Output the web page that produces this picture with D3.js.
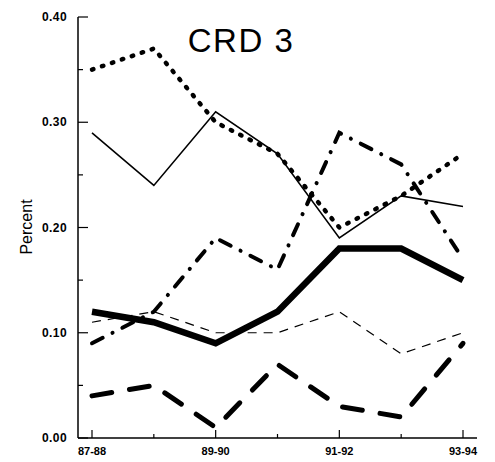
<!DOCTYPE html>
<html><head><meta charset="utf-8">
<script src="https://cdn.jsdelivr.net/npm/d3@7"></script>
<style>body{margin:0;background:#fff}</style>
</head><body>
<svg id="c" width="495" height="462"></svg>
<script>
const years = ["87-88","88-89","89-90","90-91","91-92","92-93","93-94"];
const tickLabels = ["87-88","89-90","91-92","93-94"];
const yTicks = [0,0.10,0.20,0.30,0.40];
const thickSolid = [0.12,0.11,0.09,0.12,0.18,0.18,0.15];
const thinSolid  = [0.29,0.24,0.31,0.27,0.19,0.23,0.22];
const dotted     = [0.35,0.37,0.30,0.27,0.20,0.23,0.27];
const dashDot    = [0.09,0.12,0.19,0.16,0.29,0.26,0.17];
const thinDashed = [0.11,0.12,0.10,0.10,0.12,0.08,0.10];
const longDashed = [0.04,0.05,0.01,0.07,0.03,0.02,0.09];

const svg = d3.select("#c");
const x = d3.scalePoint().domain(years).range([92,463]);
const y = d3.scaleLinear().domain([0,0.40]).range([438,17]);
const font = "Liberation Sans, Arial, sans-serif";

const g = svg.append("g");
g.append("line").attr("x1",78).attr("x2",78).attr("y1",17).attr("y2",438).attr("stroke","#000").attr("stroke-width",1.5);
g.append("line").attr("x1",78).attr("x2",477).attr("y1",438).attr("y2",438).attr("stroke","#000").attr("stroke-width",1.5);
d3.range(0,0.401,0.05).forEach((v,i)=>{
  const major = i%2===0;
  g.append("line").attr("x1",78).attr("x2",major?88:83).attr("y1",y(v)).attr("y2",y(v)).attr("stroke","#000").attr("stroke-width",1.2);
});
yTicks.forEach(v=>{
  g.append("text").attr("x",67).attr("y",y(v)+4).attr("text-anchor","end")
   .attr("font-family",font).attr("font-weight","bold").attr("font-size",12).attr("letter-spacing",0.4)
   .text(v.toFixed(2));
});
years.forEach((yr,i)=>{
  const major = i%2===0;
  g.append("line").attr("x1",x(yr)).attr("x2",x(yr)).attr("y1",438).attr("y2",major?430:434).attr("stroke","#000").attr("stroke-width",1.2);
});
tickLabels.forEach(t=>{
  g.append("text").attr("x",x(t)).attr("y",455).attr("text-anchor","middle")
   .attr("font-family",font).attr("font-weight","bold").attr("font-size",11)
   .text(t);
});
svg.append("text").attr("transform","translate(32,227) rotate(-90)").attr("text-anchor","middle")
  .attr("font-family",font).attr("font-size",16).text("Percent");
svg.append("text").attr("x",241).attr("y",52).attr("text-anchor","middle")
  .attr("font-family",font).attr("font-size",33).attr("letter-spacing",1.5).text("CRD 3");

const line = d3.line().x((d,i)=>x(years[i])).y(d=>y(d));
const series = [
  {data:thinSolid, w:1.6, dash:null, cap:"butt"},
  {data:dotted, w:4.5, dash:"1.5 9", cap:"round"},
  {data:dashDot, w:4, dash:"12 11 0.1 11", cap:"round"},
  {data:thinDashed, w:1.2, dash:"9 7", cap:"butt"},
  {data:longDashed, w:5, dash:"20 18", cap:"round"},
  {data:thickSolid, w:6.5, dash:null, cap:"butt"}
];
series.forEach(s=>{
  svg.append("path").attr("d",line(s.data)).attr("fill","none").attr("stroke","#000")
    .attr("stroke-width",s.w).attr("stroke-dasharray",s.dash).attr("stroke-linecap",s.cap).attr("stroke-linejoin","miter");
});
</script>
</body></html>
